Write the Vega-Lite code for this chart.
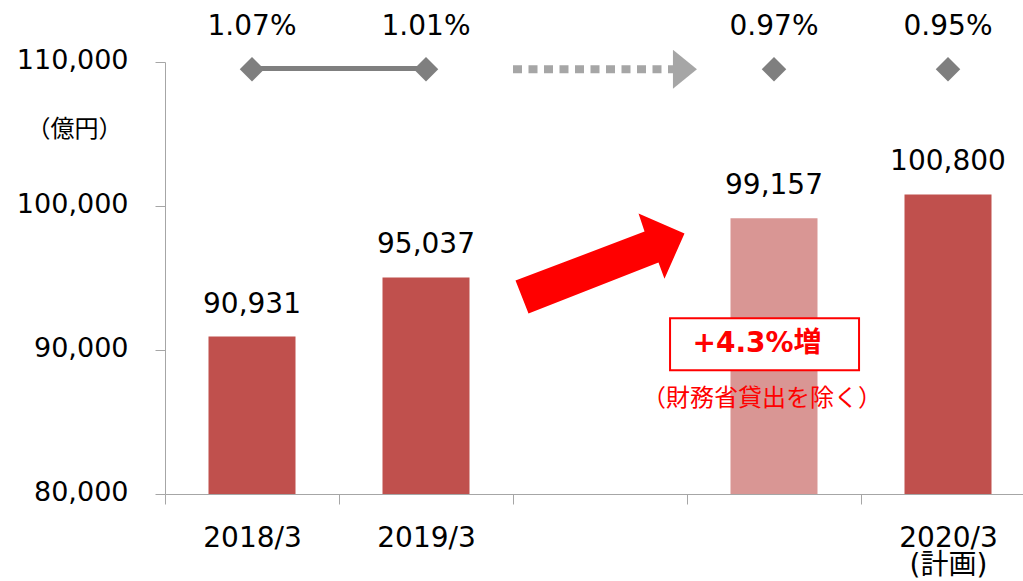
{
  "$schema": "https://vega.github.io/schema/vega-lite/v6.json",
  "width": 858,
  "height": 432,
  "autosize": {"type": "none"},
  "padding": {"left": 165, "top": 62, "right": 0, "bottom": 87},
  "background": "#FFFFFF",
  "config": {"view": {"stroke": null}, "font": "DejaVu Sans"},
  "datasets": {
    "bars": [
      {"cat": "2018/3", "value": 90931, "type": "実績"},
      {"cat": "2019/3", "value": 95037, "type": "実績"},
      {"cat": "2019/3（財務省貸出除く）", "value": 99157, "type": "財務省貸出除く"},
      {"cat": "2020/3", "value": 100800, "type": "計画"}
    ],
    "ratios": [
      {"cat": "2018/3", "ratio": 0.0107, "seg": "実績"},
      {"cat": "2019/3", "ratio": 0.0101, "seg": "実績"},
      {"cat": "2019/3（財務省貸出除く）", "ratio": 0.0097, "seg": "見込"},
      {"cat": "2020/3", "ratio": 0.0095, "seg": "計画"}
    ]
  },
  "layer": [
    {
      "data": {"name": "bars"},
      "mark": {"type": "bar"},
      "encoding": {
        "x": {
          "field": "cat", "type": "nominal", "sort": null,
          "scale": {"domain": ["2018/3", "2019/3", "gap", "2019/3（財務省貸出除く）", "2020/3"], "range": [0, 870], "paddingInner": 0.5, "paddingOuter": 0.25},
          "axis": {
            "title": null,
            "labelExpr": "datum.value == '2020/3' ? ['2020/3', '(計画)'] : ((datum.value == '2018/3' || datum.value == '2019/3') ? datum.value : '')",
            "labelFont": "DejaVu Sans, Noto Sans CJK JP",
            "labelFontSize": 28,
            "labelColor": "#000000",
            "labelPadding": 20,
            "labelBaseline": "top",
            "labelLineHeight": 27,
            "labelAngle": 0,
            "labelOverlap": false,
            "labelBound": false,
            "tickOffset": -87,
            "labelOffset": 87,
            "tickSize": 10,
            "tickColor": "#A6A6A6",
            "domainColor": "#A6A6A6"
          }
        },
        "y": {
          "field": "value", "type": "quantitative",
          "scale": {"domain": [80000, 110000], "nice": false, "zero": false},
          "axis": {
            "title": "（億円）",
            "titleAngle": 0,
            "titleX": -91,
            "titleY": 67,
            "titleAlign": "center",
            "titleBaseline": "middle",
            "titleFont": "Noto Sans CJK JP",
            "titleFontSize": 24,
            "titleFontWeight": "normal",
            "titleColor": "#000000",
            "values": [80000, 90000, 100000, 110000],
            "labelExpr": "format(datum.value, ',')",
            "labelFontSize": 27,
            "labelColor": "#000000",
            "labelPadding": 27,
            "labelOffset": -2,
            "tickSize": 10,
            "tickColor": "#A6A6A6",
            "domainColor": "#A6A6A6",
            "grid": false
          }
        },
        "y2": {"datum": 80000},
        "color": {"field": "type", "type": "nominal", "scale": {"domain": ["実績", "財務省貸出除く", "計画"], "range": ["#C0504D", "#D99694", "#C0504D"]}, "legend": null}
      }
    },
    {
      "data": {"name": "bars"},
      "mark": {"type": "text", "baseline": "alphabetic", "dy": -24, "fontSize": 28, "font": "DejaVu Sans", "color": "#000000"},
      "encoding": {
        "x": {"field": "cat", "type": "nominal", "sort": null},
        "y": {"field": "value", "type": "quantitative"},
        "text": {"field": "value", "type": "quantitative", "format": ","}
      }
    },
    {
      "data": {"values": [{"note": "arrow"}]},
      "mark": {"type": "point", "shape": "M-1,0.201L0.527,-0.379L0.456,-0.592L1,-0.355L0.763,0.178L0.692,-0.012L-0.846,0.592Z", "size": 28561, "filled": true, "color": "#FF0000", "opacity": 1, "strokeWidth": 0},
      "encoding": {"x": {"datum": "gap", "type": "nominal"}, "y": {"datum": 96000, "type": "quantitative"}}
    },
    {
      "data": {"values": [{"note": "dots"}]},
      "mark": {"type": "point", "shape": "M-1,0L0.9,0", "size": 30276, "filled": false, "color": "#A6A6A6", "opacity": 1, "strokeWidth": 8, "strokeDash": [9, 6.5], "strokeCap": "butt"},
      "encoding": {"x": {"datum": "gap", "type": "nominal"}, "y": {"datum": 109500, "type": "quantitative"}}
    },
    {
      "data": {"values": [{"note": "head"}]},
      "mark": {"type": "point", "shape": "M3.74,-1L4.97,0L3.74,1Z", "size": 1521, "filled": true, "color": "#A6A6A6", "opacity": 1, "strokeWidth": 0},
      "encoding": {"x": {"datum": "gap", "type": "nominal"}, "y": {"datum": 109500, "type": "quantitative"}}
    },
    {
      "data": {"values": [{"note": "box"}]},
      "mark": {"type": "point", "shape": "M-1.1,-0.275L0.9,-0.275L0.9,0.275L-1.1,0.275Z", "size": 35721, "filled": true, "fill": "#FFFFFF", "stroke": "#FF0000", "strokeWidth": 2, "opacity": 1},
      "encoding": {"x": {"datum": "2019/3（財務省貸出除く）", "type": "nominal"}, "y": {"datum": 90400, "type": "quantitative"}}
    },
    {
      "data": {"values": [{"label": "+4.3%増"}]},
      "mark": {"type": "text", "baseline": "middle", "dx": -17, "fontSize": 28, "fontWeight": "bold", "font": "DejaVu Sans, Noto Sans CJK JP", "color": "#FF0000"},
      "encoding": {"x": {"datum": "2019/3（財務省貸出除く）", "type": "nominal"}, "y": {"datum": 90400, "type": "quantitative"}, "text": {"field": "label", "type": "nominal"}}
    },
    {
      "data": {"values": [{"label": "（財務省貸出を除く）"}]},
      "mark": {"type": "text", "baseline": "middle", "dx": -12, "fontSize": 24, "font": "Noto Sans CJK JP", "color": "#FF0000"},
      "encoding": {"x": {"datum": "2019/3（財務省貸出除く）", "type": "nominal"}, "y": {"datum": 86600, "type": "quantitative"}, "text": {"field": "label", "type": "nominal"}}
    },
    {
      "data": {"name": "ratios"},
      "transform": [{"filter": "datum.seg == '実績'"}],
      "mark": {"type": "line", "color": "#7F7F7F", "strokeWidth": 5},
      "encoding": {"x": {"field": "cat", "type": "nominal", "sort": null}, "y": {"datum": 109550, "type": "quantitative"}}
    },
    {
      "data": {"name": "ratios"},
      "mark": {"type": "point", "shape": "diamond", "size": 600, "filled": true, "color": "#7F7F7F", "opacity": 1},
      "encoding": {"x": {"field": "cat", "type": "nominal", "sort": null}, "y": {"datum": 109500, "type": "quantitative"}}
    },
    {
      "data": {"name": "ratios"},
      "mark": {"type": "text", "baseline": "alphabetic", "dy": -34, "fontSize": 28, "font": "DejaVu Sans", "color": "#000000"},
      "encoding": {"x": {"field": "cat", "type": "nominal", "sort": null}, "y": {"datum": 109500, "type": "quantitative"}, "text": {"field": "ratio", "type": "quantitative", "format": ".2%"}}
    }
  ]
}
